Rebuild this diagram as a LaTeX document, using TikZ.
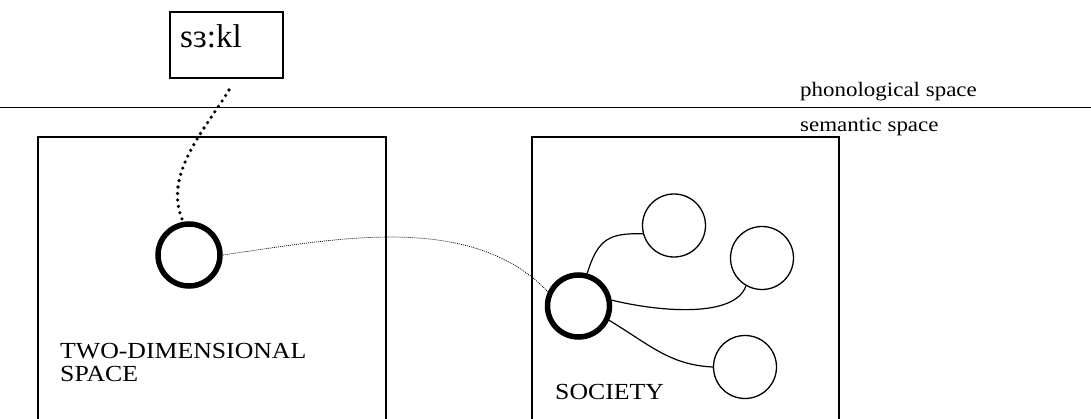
\documentclass[tikz,border=0pt]{standalone}
\usepackage{fontspec}
\setmainfont{Liberation Serif}
\newfontfamily\widefont[FakeStretch=1.12]{Liberation Serif}
\begin{document}
\begin{tikzpicture}[x=1pt,y=-1pt,
  box/.style={draw,line width=1.3pt},
  bold/.style={draw,circle,line width=5.5pt,minimum size=62pt,inner sep=0pt},
  thin/.style={draw,circle,line width=1.3pt,minimum size=63pt,inner sep=0pt},
  link/.style={line width=1.2pt},
  lbl/.style={font=\widefont\fontsize{20.5}{24}\selectfont,inner sep=0pt,anchor=base west},
  caplbl/.style={font=\widefont\fontsize{23}{26}\selectfont,inner sep=0pt,anchor=base west}]
\useasboundingbox (0,0) rectangle (1091,419);
% top box
\node[box,minimum width=113pt,minimum height=66pt,inner sep=0pt] (word) at (226.5,45) {};
\node[inner sep=0pt,anchor=base west,font=\fontsize{33}{36}\selectfont] (wordtxt) at (180,48) {sɜ:kl};
% divider
\coordinate (L) at (0,107.5);
\coordinate (R) at (1091,107.5);
\draw[line width=1.2pt] (L) -- (R);
\node[lbl] (phon) at (800,97) {phonological space};
\node[lbl] (sem) at (800,132) {semantic space};
% boxes
\draw[box] (38,425) -- (38,137) -- (386,137) -- (386,425);
\draw[box] (532,425) -- (532,137) -- (839,137) -- (839,425);
% circles
\node[bold] (c1) at (189,255) {};
\node[bold] (c2) at (578.5,306) {};
\node[thin] (s1) at (674,225.5) {};
\node[thin] (s2) at (762,258) {};
\node[thin] (s3) at (745,367) {};
% labels
\node[caplbl] (two) at (60,358) {TWO-DIMENSIONAL};
\node[caplbl] (space) at (60,381) {SPACE};
\node[caplbl] (soc) at (555,399) {SOCIETY};
% links
\coordinate (dstart) at (229,90);
\draw[line width=3.6pt,dash pattern=on 0pt off 6.5pt,line cap=round] (dstart) .. controls (205,130) and (162,175) .. (c1.100);
\draw[line width=0.7pt,dash pattern=on 1pt off 1pt] (c1.east) .. controls (330,240) and (470,210) .. (c2.155);
\draw[link] (c2.75) .. controls (598,238) and (610,233) .. (s1.195);
\draw[link] (c2.10) .. controls (660,312) and (735,318) .. (s2.240);
\draw[link] (c2.-25) .. controls (650,345) and (670,365) .. (s3.west);
\end{tikzpicture}
\end{document}
